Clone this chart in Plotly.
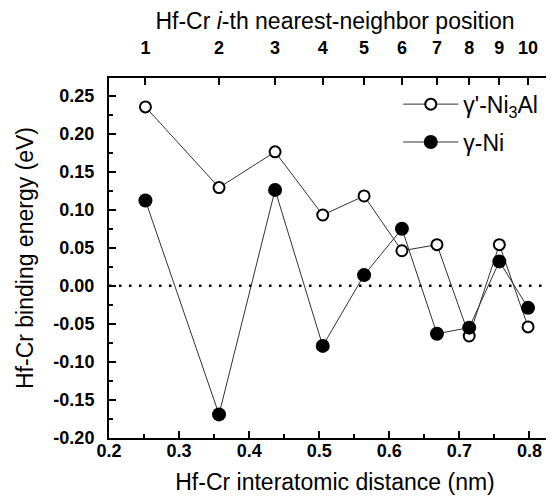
import plotly.graph_objects as go

# ---- data ----
distance_nm = [0.252, 0.357, 0.437, 0.505, 0.564, 0.618, 0.668, 0.714, 0.757, 0.798]
neighbor_labels = ["1", "2", "3", "4", "5", "6", "7", "8", "9", "10"]
gamma_prime_ni3al = [0.235, 0.129, 0.176, 0.093, 0.118, 0.046, 0.054, -0.066, 0.054, -0.054]
gamma_ni = [0.112, -0.169, 0.126, -0.079, 0.014, 0.075, -0.063, -0.055, 0.032, -0.029]
y_tick_vals = [-0.20, -0.15, -0.10, -0.05, 0.00, 0.05, 0.10, 0.15, 0.20, 0.25]
y_tick_text = ["-0.20", "-0.15", "-0.10", "-0.05", "0.00", "0.05", "0.10", "0.15", "0.20", "0.25"]
x_tick_vals = [0.2, 0.3, 0.4, 0.5, 0.6, 0.7, 0.8]
x_tick_text = ["0.2", "0.3", "0.4", "0.5", "0.6", "0.7", "0.8"]

FONT = "Arial, Liberation Sans, sans-serif"
X_RANGE = [0.2, 0.845]
Y_RANGE = [-0.2, 0.273]

fig = go.Figure()
fig.add_trace(go.Scatter(
    x=distance_nm, y=gamma_prime_ni3al, name="γ'-Ni<sub>3</sub>Al",
    mode="lines+markers", legendgroup="a",
    line=dict(color="#333333", width=1),
    marker=dict(symbol="circle", size=11, color="white", line=dict(color="black", width=2)),
    xaxis="x", yaxis="y",
))
fig.add_trace(go.Scatter(
    x=distance_nm, y=gamma_ni, name="γ-Ni",
    mode="lines+markers", legendgroup="b",
    line=dict(color="#333333", width=1),
    marker=dict(symbol="circle", size=14, color="black", line=dict(color="black", width=0)),
    xaxis="x2", yaxis="y",
))

fig.add_shape(type="line", xref="paper", x0=0, x1=1, yref="y", y0=0, y1=0,
              line=dict(color="black", width=2.5, dash="2.5px,7.5px"), layer="below")

tickfont = dict(family=FONT, size=18, color="black", weight="bold")
titlefont = dict(family=FONT, size=23, color="black")

fig.update_layout(
    width=554, height=496,
    margin=dict(l=101, r=1, t=70, b=66, autoexpand=False),
    paper_bgcolor="white", plot_bgcolor="white",
    font=dict(family=FONT, color="black"),
    showlegend=True,
    legend=dict(x=0.64, y=0.987, xanchor="left", yanchor="top",
                font=dict(family=FONT, size=23, color="black"),
                bgcolor="rgba(0,0,0,0)", itemwidth=55, tracegroupgap=5),
    xaxis=dict(
        range=X_RANGE, tickvals=x_tick_vals, ticktext=x_tick_text,
        ticks="inside", ticklen=7, tickwidth=1.5, tickcolor="black",
        minor=dict(ticks="inside", ticklen=4, tickwidth=1.5, dtick=0.05, tick0=0.2, tickcolor="black", showgrid=False),
        showline=True, linewidth=2, linecolor="black", mirror=True,
        showgrid=False, zeroline=False, tickfont=tickfont, ticklabelstandoff=-5,
        title=dict(text="Hf-Cr interatomic distance (nm)", font=titlefont, standoff=14),
        automargin=False,
    ),
    xaxis2=dict(
        overlaying="x", side="top", anchor="y",
        range=X_RANGE, tickvals=distance_nm, ticktext=neighbor_labels,
        ticks="inside", ticklen=7, tickwidth=1.5, tickcolor="black",
        showline=False, showgrid=False, zeroline=False, tickfont=tickfont, ticklabelstandoff=19,
        title=dict(text="Hf-Cr <i>i</i>-th nearest-neighbor position", font=titlefont, standoff=4),
        automargin=False,
    ),
    yaxis=dict(
        range=Y_RANGE, tickvals=y_tick_vals, ticktext=y_tick_text,
        ticks="inside", ticklen=7, tickwidth=1.5, tickcolor="black",
        minor=dict(ticks="inside", ticklen=4, tickwidth=1.5, dtick=0.025, tick0=0, tickcolor="black", showgrid=False),
        showline=True, linewidth=2, linecolor="black", mirror=True,
        showgrid=False, zeroline=False, tickfont=tickfont, ticklabelstandoff=9,
        title=dict(text="Hf-Cr binding energy (eV)", font=titlefont, standoff=13),
        automargin=False,
    ),
)

fig.write_html("out.html")
